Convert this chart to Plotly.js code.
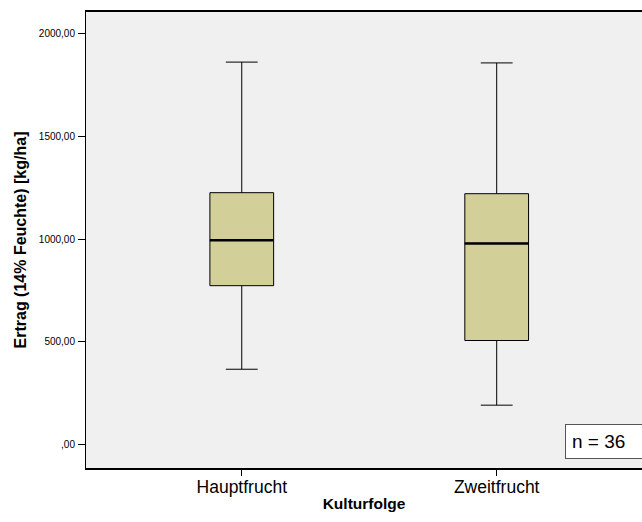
<!DOCTYPE html>
<html>
<head>
<meta charset="utf-8">
<script src="https://cdn.plot.ly/plotly-3.0.1.min.js"></script>
<style>html,body{margin:0;padding:0;background:#fff;}#chart{width:642px;height:522px;}</style>
</head>
<body>
<div id="chart"></div>
<script>
const categories = ["Hauptfrucht", "Zweitfrucht"];
const lowerWhisker = [367, 192];
const q1Values = [774, 507];
const medianValues = [995, 980];
const q3Values = [1227, 1222];
const upperWhisker = [1863, 1859];
const yTickVals = [0, 500, 1000, 1500, 2000];
const yTickText = [",00", "500,00", "1000,00", "1500,00", "2000,00"];
const nLabel = "n = 36";

const boxWidth = 0.25;
const font = "Liberation Sans, Arial, sans-serif";

const trace = {
  type: "box",
  x: categories,
  q1: q1Values,
  median: medianValues,
  q3: q3Values,
  lowerfence: lowerWhisker,
  upperfence: upperWhisker,
  width: boxWidth,
  whiskerwidth: 0.5,
  fillcolor: "#d3cf98",
  line: {color: "#000000", width: 1},
  boxpoints: false,
  hoverinfo: "none"
};

const medianShapes = categories.map((c, i) => ({
  type: "line", xref: "x", yref: "y",
  x0: i - boxWidth / 2, x1: i + boxWidth / 2,
  y0: medianValues[i], y1: medianValues[i],
  line: {color: "#000000", width: 2.5}
}));

const layout = {
  width: 642, height: 522,
  margin: {l: 86, r: 0, t: 12, b: 54},
  paper_bgcolor: "#ffffff",
  plot_bgcolor: "#f0f0f0",
  showlegend: false,
  font: {family: font, color: "#000000"},
  xaxis: {
    type: "category",
    range: [-0.611, 1.570],
    showline: true, linecolor: "#000000", linewidth: 2, mirror: true,
    ticks: "outside", ticklen: 6, tickcolor: "#000000",
    ticklabelstandoff: -4,
    showgrid: false, zeroline: false,
    tickfont: {size: 17.5, family: font},
    title: {text: "<b>Kulturfolge</b>", font: {size: 15.5, family: font}, standoff: 2}
  },
  yaxis: {
    range: [-114, 2107],
    showline: true, linecolor: "#000000", linewidth: 1,
    ticks: "outside", ticklen: 7, tickcolor: "#000000",
    ticklabelstandoff: 1,
    tickvals: yTickVals, ticktext: yTickText,
    showgrid: false, zeroline: false,
    tickfont: {size: 10, family: font},
    title: {text: "<b>Ertrag (14% Feuchte) [kg/ha]</b>", font: {size: 16, family: font}, standoff: 8}
  },
  shapes: medianShapes,
  annotations: [{
    xref: "paper", yref: "paper",
    x: 0.8615, y: 0.096, xanchor: "left", yanchor: "top",
    text: nLabel, showarrow: false,
    font: {size: 19, family: font, color: "#000000"},
    bgcolor: "#ffffff", bordercolor: "#555555", borderwidth: 1,
    borderpad: 6, width: 90, align: "left"
  }]
};

Plotly.newPlot("chart", [trace], layout, {displayModeBar: false, staticPlot: true});
</script>
</body>
</html>
